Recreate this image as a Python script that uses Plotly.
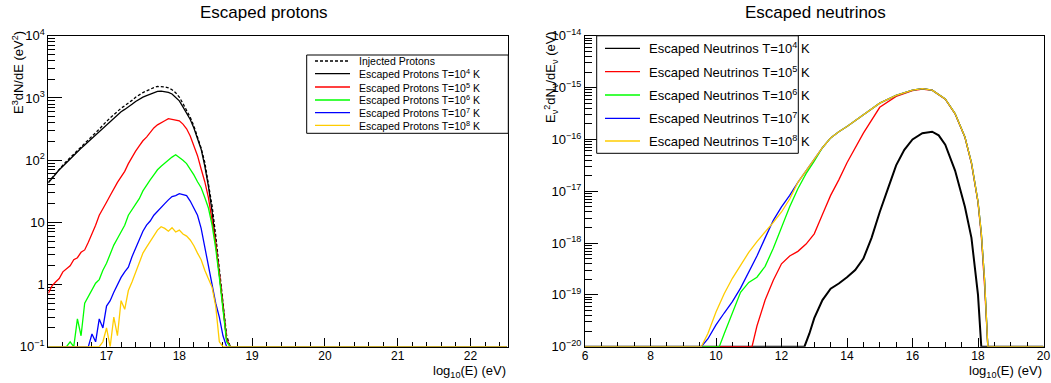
import plotly.graph_objects as go

W, H = 1051, 383

# ---------------- Left panel: escaped protons ----------------
logE_p = [16.20, 16.25, 16.30, 16.35, 16.40, 16.45, 16.50, 16.55, 16.60, 16.65,
          16.70, 16.75, 16.80, 16.85, 16.90, 16.95, 17.00, 17.05, 17.10, 17.15,
          17.20, 17.25, 17.30, 17.35, 17.40, 17.45, 17.50, 17.55, 17.60, 17.65,
          17.70, 17.75, 17.80, 17.85, 17.90, 17.95, 18.00, 18.05, 18.10, 18.15,
          18.20, 18.25, 18.30, 18.35, 18.40, 18.45, 18.50, 18.55, 18.60, 18.65,
          18.70, 22.50]

injected = [44, 52, 62, 72, 83, 96, 110, 127, 145, 166,
            189, 215, 243, 276, 316, 368, 420, 478, 542, 612,
            684, 752, 820, 915, 1030, 1130, 1220, 1300, 1390, 1470,
            1530, 1540, 1510, 1455, 1360, 1210, 1030, 815, 645, 490,
            355, 243, 156, 92, 43, 18.5, 6.2, 1.9, 0.52, 0.15,
            0, 0]

esc_p_T4 = [43, 51, 60, 70, 80, 92, 105, 120, 136, 155,
            175, 198, 222, 250, 285, 330, 375, 425, 480, 540,
            600, 655, 710, 790, 880, 960, 1030, 1090, 1160, 1230,
            1280, 1290, 1270, 1230, 1160, 1040, 900, 720, 580, 450,
            330, 230, 150, 80, 38, 15, 5, 1.6, 0.45, 0.13,
            0, 0]

esc_p_T5 = [0.72, 0.95, 1.1, 1.25, 1.6, 1.8, 2.0, 2.5, 2.7, 3.3,
            3.6, 4.8, 6.5, 9, 13, 17, 21, 27, 35, 44,
            54, 66, 88, 112, 140, 170, 205, 235, 285, 330,
            370, 405, 430, 465, 455, 445, 430, 380, 320, 245,
            175, 118, 72, 45, 25, 11, 4.5, 1.5, 0.45, 0.13,
            0, 0]

esc_p_T6 = [0, 0, 0, 0, 0, 0, 0.12, 0, 0.28, 0.15,
            0.5, 0.64, 0.85, 1.05, 1.2, 1.7, 2.2, 3.2, 4.3, 5.5,
            7, 9, 13, 16, 19, 24, 32, 40, 48, 58,
            70, 80, 90, 102, 112, 122, 112, 100, 88, 72,
            58, 45, 36, 25, 17, 9, 3.8, 1.3, 0.4, 0.12,
            0, 0]

esc_p_T7 = [0, 0, 0, 0, 0, 0, 0, 0, 0, 0,
            0, 0.1, 0.16, 0.12, 0.28, 0.2, 0.45, 0.55, 0.75, 1.0,
            1.3, 1.6, 1.9, 2.8, 3.8, 5.2, 7.2, 9, 10.5, 13,
            15, 18, 20, 23, 26, 27, 29, 28, 27, 22,
            17, 13, 8, 4, 2, 0.9, 0.5, 0.3, 0.15, 0,
            0, 0]

esc_p_T8 = [0, 0, 0, 0, 0, 0, 0, 0, 0, 0,
            0, 0, 0, 0, 0, 0.12, 0.2, 0, 0.3, 0.15,
            0.55, 0.4, 0.8, 1.1, 1.6, 2.3, 3.2, 4.0, 5.0, 6.0,
            7.5, 8.5, 8.0, 7.2, 8.2, 7.0, 7.5, 6.5, 6.0, 5.2,
            4.2, 3.2, 2.5, 1.7, 1.2, 0.9, 0.45, 0.12, 0, 0,
            0, 0]

# ---------------- Right panel: escaped neutrinos ----------------
nu_T4_x = [6.0, 12.7, 12.85, 13.0, 13.25, 13.5, 13.75, 14.0, 14.25, 14.5, 14.75,
           15.0, 15.25, 15.5, 15.75, 16.0, 16.3, 16.6, 16.8, 17.0, 17.3, 17.6,
           17.8, 18.0, 18.05, 18.1, 20.0]
nu_T4_y = [0, 0, 1.78e-20, 3.55e-20, 7.94e-20, 1.32e-19, 1.66e-19, 2.19e-19, 3.02e-19,
           5.01e-19, 1.26e-18, 3.98e-18, 1.12e-17, 3.16e-17, 6.31e-17, 1.0e-16,
           1.32e-16, 1.41e-16, 1.20e-16, 7.94e-17, 2.51e-17, 5.01e-18, 1.26e-18,
           1.0e-19, 3.16e-20, 0, 0]

nu_T5_x = [6.0, 11.1, 11.25, 11.5, 11.75, 12.0, 12.25, 12.5, 12.75, 13.0, 13.25,
           13.5, 13.75, 14.0, 14.5, 15.0, 15.5, 16.0, 16.3, 16.6, 17.0, 17.3,
           17.6, 17.8, 18.0, 18.1, 18.2, 18.25, 18.3, 20.0]
nu_T5_y = [0, 0, 2.51e-20, 7.94e-20, 1.91e-19, 3.98e-19, 5.62e-19, 6.92e-19, 9.55e-19,
           1.51e-18, 3.55e-18, 8.32e-18, 1.66e-17, 3.55e-17, 1.32e-16, 4.17e-16,
           6.76e-16, 8.71e-16, 9.40e-16, 8.90e-16, 6.00e-16, 3.10e-16, 1.10e-16,
           3.40e-17, 6.0e-18, 1.4e-18, 1.5e-19, 3.0e-20, 0, 0]

nu_T6_x = [6.0, 10.1, 10.25, 10.5, 10.75, 11.0, 11.25, 11.5, 11.75, 12.0, 12.25,
           12.5, 12.75, 13.0, 13.25, 13.5, 13.75, 14.0, 14.5, 15.0, 15.5, 16.0,
           16.3, 16.6, 17.0, 17.3, 17.6, 17.8, 18.0, 18.1, 18.2, 18.3, 20.0]
nu_T6_y = [0, 0, 1.78e-20, 4.47e-20, 1.12e-19, 1.74e-19, 2.19e-19, 3.55e-19, 7.94e-19,
           2.0e-18, 5.01e-18, 1.12e-17, 2.19e-17, 3.80e-17, 6.92e-17, 1.07e-16,
           1.41e-16, 1.78e-16, 2.95e-16, 5.01e-16, 7.08e-16, 8.91e-16, 9.55e-16,
           8.91e-16, 6.03e-16, 3.16e-16, 1.12e-16, 3.55e-17, 6.31e-18, 1.58e-18,
           2.0e-19, 0, 0]

nu_T7_x = [6.0, 9.55, 9.75, 10.0, 10.25, 10.5, 10.75, 11.0, 11.25, 11.5, 11.75,
           12.0, 12.25, 12.5, 12.75, 13.0, 13.25, 13.5, 13.75, 14.0, 14.5, 15.0,
           15.5, 16.0, 16.3, 16.6, 17.0, 17.3, 17.6, 17.8, 18.0, 18.1, 18.2, 18.3,
           20.0]
nu_T7_y = [0, 0, 1.41e-20, 2.63e-20, 4.47e-20, 7.41e-20, 1.35e-19, 2.69e-19, 5.62e-19,
           1.26e-18, 2.75e-18, 5.01e-18, 8.32e-18, 1.48e-17, 2.51e-17, 4.17e-17,
           6.92e-17, 1.07e-16, 1.41e-16, 1.78e-16, 2.95e-16, 5.01e-16, 7.08e-16,
           8.91e-16, 9.55e-16, 8.91e-16, 6.03e-16, 3.16e-16, 1.12e-16, 3.55e-17,
           6.31e-18, 1.58e-18, 2.0e-19, 0, 0]

nu_T8_x = [6.0, 9.55, 9.75, 10.0, 10.25, 10.5, 10.75, 11.0, 11.25, 11.5, 11.75,
           12.0, 12.25, 12.5, 12.75, 13.0, 13.25, 13.5, 13.75, 14.0, 14.5, 15.0,
           15.5, 16.0, 16.3, 16.6, 17.0, 17.3, 17.6, 17.8, 18.0, 18.1, 18.2, 18.3,
           20.0]
nu_T8_y = [0, 0, 1.78e-20, 4.68e-20, 1.05e-19, 2.09e-19, 3.72e-19, 6.61e-19, 1.07e-18,
           1.62e-18, 2.51e-18, 3.98e-18, 7.08e-18, 1.48e-17, 2.51e-17, 4.17e-17,
           6.92e-17, 1.07e-16, 1.41e-16, 1.78e-16, 2.95e-16, 5.01e-16, 7.08e-16,
           8.91e-16, 9.55e-16, 8.91e-16, 6.03e-16, 3.16e-16, 1.12e-16, 3.55e-17,
           6.31e-18, 1.58e-18, 2.0e-19, 0, 0]

proton_labels = ["Injected Protons",
                 "Escaped Protons T=10<sup>4</sup> K",
                 "Escaped Protons T=10<sup>5</sup> K",
                 "Escaped Protons T=10<sup>6</sup> K",
                 "Escaped Protons T=10<sup>7</sup> K",
                 "Escaped Protons T=10<sup>8</sup> K"]
nu_labels = ["Escaped Neutrinos T=10<sup>4</sup> K",
             "Escaped Neutrinos T=10<sup>5</sup> K",
             "Escaped Neutrinos T=10<sup>6</sup> K",
             "Escaped Neutrinos T=10<sup>7</sup> K",
             "Escaped Neutrinos T=10<sup>8</sup> K"]

p_ticks = [0.1, 1, 10, 100, 1000, 10000]
p_ticktext = ["10<sup>\u22121</sup>", "1", "10", "10<sup>2</sup>", "10<sup>3</sup>", "10<sup>4</sup>"]
nu_ticks = [1e-20, 1e-19, 1e-18, 1e-17, 1e-16, 1e-15, 1e-14]
nu_ticktext = ["10<sup>\u2212%d</sup>" % k for k in (20, 19, 18, 17, 16, 15, 14)]

COLORS = ["#000000", "#ff0000", "#00ff00", "#0000ff", "#ffcc00"]
FONT = "Liberation Sans, Arial, Helvetica, sans-serif"

P_FLOOR = 0.1
NU_FLOOR = 1e-20


def floored(vals, floor):
    return [v if v > 0 else floor for v in vals]


def px(x):
    return x / W


def py(y):
    return 1 - y / H


fig = go.Figure()

# left panel traces
fig.add_trace(go.Scatter(x=logE_p, y=floored(injected, P_FLOOR), mode="lines",
                         line=dict(color="#000000", width=1.3, dash="3px,2px"),
                         xaxis="x", yaxis="y", showlegend=False))
for vals, col in zip([esc_p_T4, esc_p_T5, esc_p_T6, esc_p_T7, esc_p_T8], COLORS):
    fig.add_trace(go.Scatter(x=logE_p, y=floored(vals, P_FLOOR), mode="lines",
                             line=dict(color=col, width=1.3),
                             xaxis="x", yaxis="y", showlegend=False))

# right panel traces
nu_series = [(nu_T4_x, nu_T4_y), (nu_T5_x, nu_T5_y), (nu_T6_x, nu_T6_y),
             (nu_T7_x, nu_T7_y), (nu_T8_x, nu_T8_y)]
for (xs, ys), col, w in zip(nu_series, COLORS, [2.0, 1.3, 1.3, 1.3, 1.3]):
    fig.add_trace(go.Scatter(x=xs, y=floored(ys, NU_FLOOR), mode="lines",
                             line=dict(color=col, width=w),
                             xaxis="x2", yaxis="y2", showlegend=False))

ydom = [py(346.7), py(35.8)]
axis_common = dict(showline=True, mirror=True, linecolor="black", linewidth=1,
                   ticks="inside", tickcolor="black", showgrid=False, zeroline=False,
                   automargin=False, layer="below traces")
xfont = dict(family=FONT, size=12, color="black")
yfont = dict(family=FONT, size=13, color="black")

minor_p = [m * 10.0 ** e for e in range(-1, 4) for m in range(2, 10)]
minor_nu = [m * 10.0 ** e for e in range(-20, -14) for m in range(2, 10)]

fig.update_layout(
    width=W, height=H, autosize=False,
    margin=dict(l=0, r=0, t=0, b=0, pad=0),
    paper_bgcolor="white", plot_bgcolor="white",
    font=dict(family=FONT, color="black"),
    xaxis=dict(domain=[px(48.3), px(508.3)], range=[16.2, 22.52], anchor="y",
               tickvals=[17, 18, 19, 20, 21, 22], ticklen=9, tickfont=xfont,
               ticklabelstandoff=-2,
               minor=dict(ticks="inside", ticklen=5, tick0=16.2, dtick=0.2, tickcolor="black"),
               **axis_common),
    yaxis=dict(domain=ydom, type="log", range=[-1, 4], anchor="x",
               tickvals=p_ticks, ticktext=p_ticktext, ticklen=14, tickfont=yfont,
               minor=dict(ticks="inside", ticklen=7, tickvals=minor_p, tickcolor="black"),
               **axis_common),
    xaxis2=dict(domain=[px(585), px(1043.5)], range=[6, 20], anchor="y2",
                tickvals=[6, 8, 10, 12, 14, 16, 18, 20], ticklen=9, tickfont=xfont,
                ticklabelstandoff=-2,
                minor=dict(ticks="inside", ticklen=5, tick0=6, dtick=0.5, tickcolor="black"),
                **axis_common),
    yaxis2=dict(domain=ydom, type="log", range=[-20, -14], anchor="x2",
                tickvals=nu_ticks, ticktext=nu_ticktext, ticklen=13, tickfont=yfont,
                minor=dict(ticks="inside", ticklen=7, tickvals=minor_nu, tickcolor="black"),
                **axis_common),
)

annotations = []
shapes = []

# panel titles
annotations.append(dict(text="Escaped protons", x=px(264), y=py(12), xref="paper", yref="paper",
                        xanchor="center", yanchor="middle", showarrow=False,
                        font=dict(family=FONT, size=17, color="black")))
annotations.append(dict(text="Escaped neutrinos", x=px(815), y=py(12), xref="paper", yref="paper",
                        xanchor="center", yanchor="middle", showarrow=False,
                        font=dict(family=FONT, size=17, color="black")))

# axis titles
annotations.append(dict(text="E<sup>3</sup>dN/dE (eV<sup>2</sup>)", x=px(18), y=py(73),
                        xref="paper", yref="paper", xanchor="center", yanchor="middle",
                        textangle=-90, showarrow=False, font=dict(family=FONT, size=13)))
annotations.append(dict(text="E<sub>\u03bd</sub><sup>2</sup>dN<sub>\u03bd</sub>/dE<sub>\u03bd</sub> (eV)",
                        x=px(551), y=py(77), xref="paper", yref="paper",
                        xanchor="center", yanchor="middle", textangle=-90, showarrow=False,
                        font=dict(family=FONT, size=13)))
for xr in (508.3, 1043.5):
    annotations.append(dict(text="log<sub>10</sub>(E) (eV)", x=px(xr), y=py(371),
                            xref="paper", yref="paper", xanchor="right", yanchor="middle",
                            showarrow=False, font=dict(family=FONT, size=13)))

# legend: protons
shapes.append(dict(type="rect", xref="paper", yref="paper", x0=px(306.7), x1=px(508.3),
                   y0=py(133.3), y1=py(55), line=dict(color="black", width=1), fillcolor="white",
                   layer="above"))
p_rows = [61, 73.7, 87, 100, 112.7, 125.3]
p_cols = ["#000000"] + COLORS
for i, (lab, col, yy) in enumerate(zip(proton_labels, p_cols, p_rows)):
    shapes.append(dict(type="line", xref="paper", yref="paper", x0=px(315), x1=px(350),
                       y0=py(yy), y1=py(yy),
                       line=dict(color=col, width=1.3, dash="3px,2px" if i == 0 else "solid")))
    annotations.append(dict(text=lab, x=px(356.7), y=py(yy), xref="paper", yref="paper",
                            xanchor="left", yanchor="middle", showarrow=False,
                            font=dict(family=FONT, size=10.5, color="black")))

# legend: neutrinos
shapes.append(dict(type="rect", xref="paper", yref="paper", x0=px(596.7), x1=px(798.3),
                   y0=py(153.3), y1=py(35.8), line=dict(color="black", width=1), fillcolor="white",
                   layer="above"))
nu_rows = [48.3, 71.7, 95, 118.3, 141]
for lab, col, yy in zip(nu_labels, COLORS, nu_rows):
    shapes.append(dict(type="line", xref="paper", yref="paper", x0=px(605), x1=px(640),
                       y0=py(yy), y1=py(yy), line=dict(color=col, width=1.3)))
    annotations.append(dict(text=lab, x=px(646.7), y=py(yy), xref="paper", yref="paper",
                            xanchor="left", yanchor="middle", showarrow=False,
                            font=dict(family=FONT, size=13, color="black")))

fig.update_layout(annotations=annotations, shapes=shapes)

fig.write_html("out.html",
               config={"displayModeBar": False},
               post_script="document.body.style.margin='0';document.body.style.overflow='hidden';")
